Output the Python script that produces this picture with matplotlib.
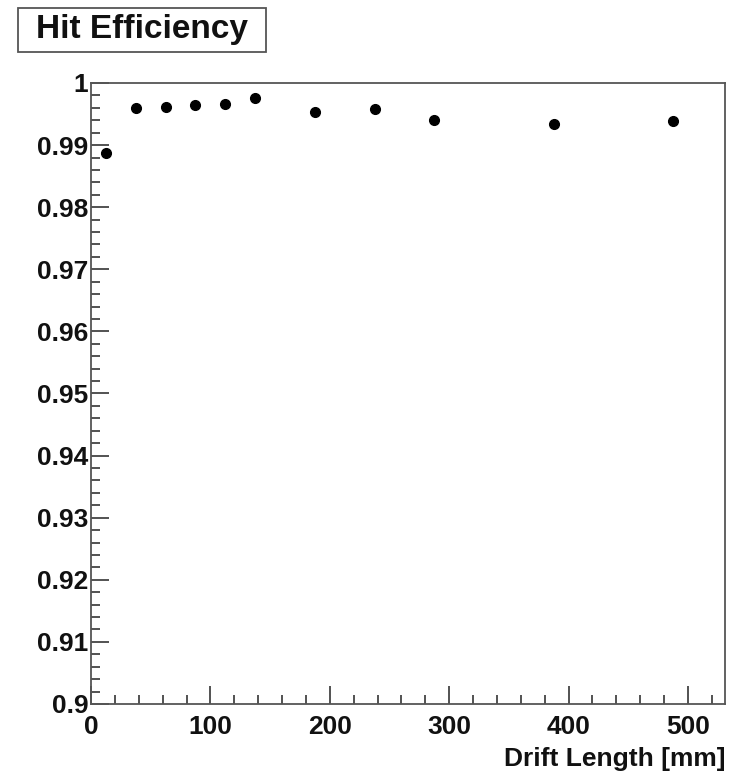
import matplotlib.pyplot as plt
from matplotlib.patches import Rectangle
from matplotlib.ticker import MultipleLocator, FixedLocator, FixedFormatter

# data
drift = [12.5, 37.5, 62.5, 87.5, 112.5, 137.5, 187.5, 237.5, 287.5, 387.5, 487.5]
eff = [0.9888, 0.9960, 0.9962, 0.9965, 0.9966, 0.9976, 0.9954, 0.9958, 0.9940, 0.9934, 0.9938]

xticks = [0, 100, 200, 300, 400, 500]
xlabels = ['0', '100', '200', '300', '400', '500']
yticks = [0.90, 0.91, 0.92, 0.93, 0.94, 0.95, 0.96, 0.97, 0.98, 0.99, 1.00]
ylabels = ['0.9', '0.91', '0.92', '0.93', '0.94', '0.95', '0.96', '0.97', '0.98', '0.99', '1']

plt.rcParams['font.family'] = ['Liberation Sans', 'DejaVu Sans']
plt.rcParams['font.weight'] = 'bold'

fig = plt.figure(figsize=(7.31, 7.72), dpi=100)
ax = fig.add_axes([0.1245, 0.0881, 0.8673, 0.8044])

ax.plot(drift, eff, 'o', color='black', markersize=7)

ax.set_xlim(0, 531)
ax.set_ylim(0.9, 1.0)
ax.xaxis.set_major_locator(FixedLocator(xticks))
ax.xaxis.set_major_formatter(FixedFormatter(xlabels))
ax.xaxis.set_minor_locator(MultipleLocator(20))
ax.yaxis.set_major_locator(FixedLocator(yticks))
ax.yaxis.set_major_formatter(FixedFormatter(ylabels))
ax.yaxis.set_minor_locator(MultipleLocator(0.002))

ax.tick_params(which='both', direction='in', color='#444444', width=1.3,
               top=False, right=False, labelsize=19, labelcolor='#111111')
ax.tick_params(which='major', length=13)
ax.tick_params(which='minor', length=6.5)
ax.tick_params(axis='y', which='major', pad=2)
ax.tick_params(axis='x', which='major', pad=8)
for lab in ax.get_xticklabels() + ax.get_yticklabels():
    lab.set_fontweight('bold')

for s in ax.spines.values():
    s.set_color('#555555')
    s.set_linewidth(1.3)

ax.set_xlabel('Drift Length [mm]', fontsize=19, fontweight='bold', color='#111111')
ax.xaxis.set_label_coords(1.0, -0.07)
ax.xaxis.label.set_horizontalalignment('right')

# title box
fig.patches.append(Rectangle((0.0246, 0.9326), 0.3393, 0.057, transform=fig.transFigure,
                             facecolor='white', edgecolor='#555555', linewidth=1.3))
fig.text(0.194, 0.962, 'Hit Efficiency', fontsize=24, fontweight='bold',
         color='#111111', va='center', ha='center')

plt.savefig('out.png', dpi=100)
